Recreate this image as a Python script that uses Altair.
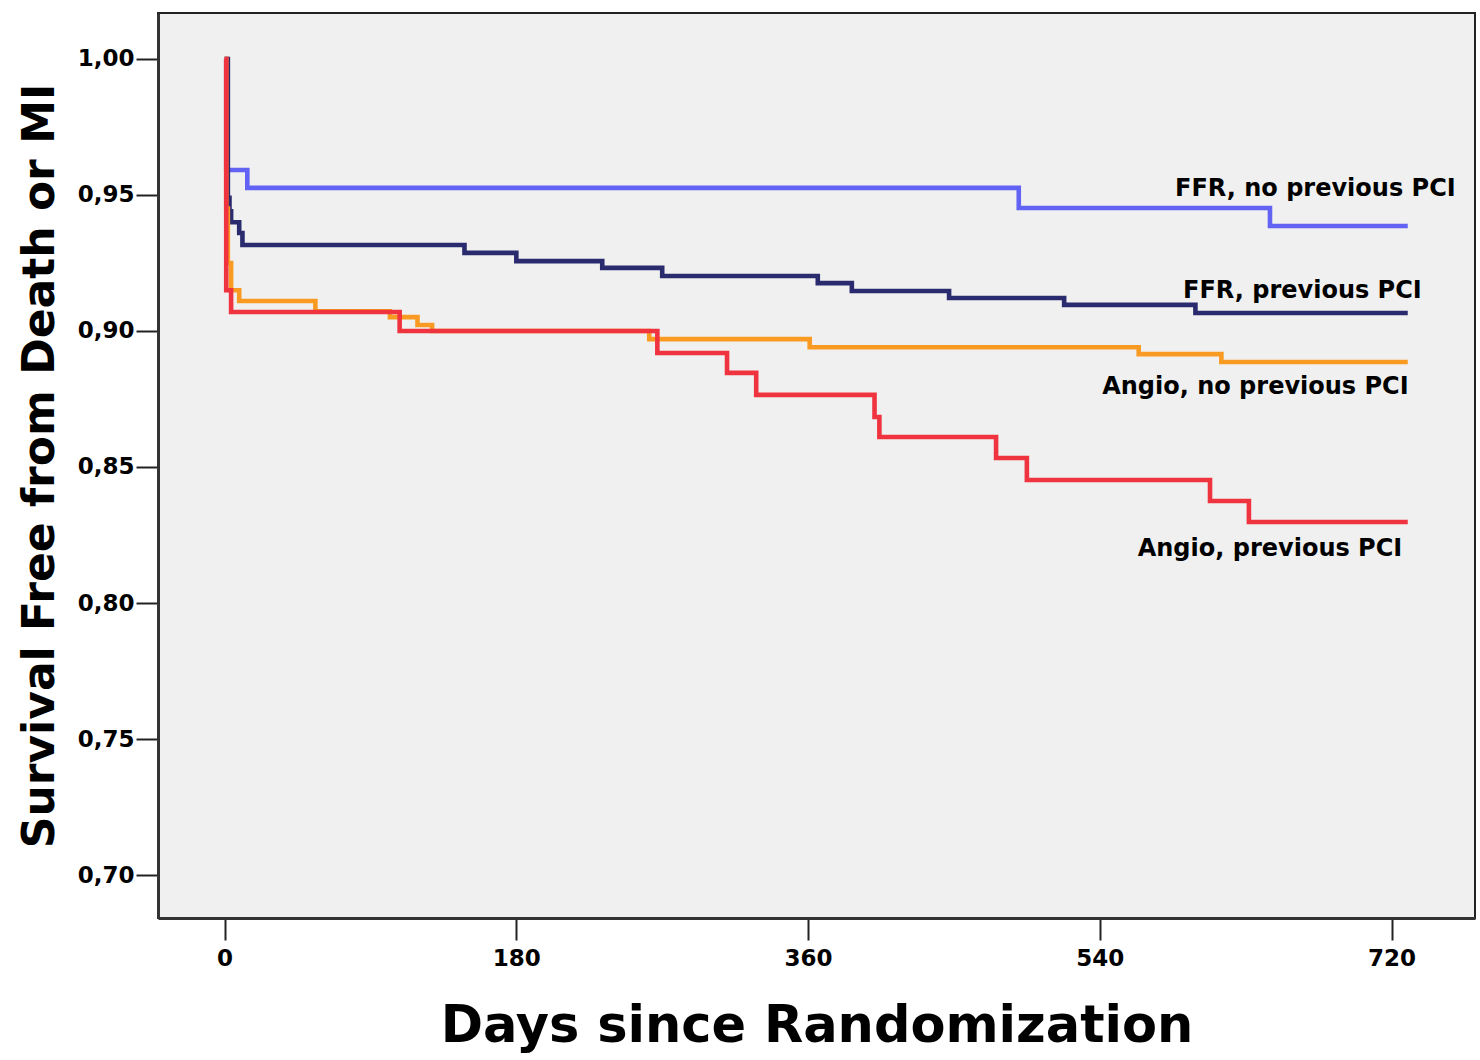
import altair as alt
import pandas as pd

# ---- data ----
series_names = ["FFR, no previous PCI", "FFR, previous PCI",
                "Angio, no previous PCI", "Angio, previous PCI"]
series_colors = ["#6262f5", "#2a2a6e", "#f99a22", "#f0343f"]

ffr_noprev_days = [0, 1, 14, 490, 645, 730]
ffr_noprev_surv = [1.0, 0.9592, 0.9526, 0.9452, 0.9386, 0.9386]

ffr_prev_days = [0, 2, 3, 4, 9, 11, 148, 180, 233, 270, 366, 387, 447, 518, 599, 730]
ffr_prev_surv = [1.0, 0.949, 0.944, 0.940, 0.936, 0.9316, 0.9287, 0.9257, 0.9232,
                 0.9202, 0.9176, 0.9147, 0.9121, 0.9096, 0.9066, 0.9066]

angio_noprev_days = [0, 1, 2, 4, 9, 56, 102, 119, 128, 262, 361, 564, 615, 730]
angio_noprev_surv = [1.0, 0.945, 0.925, 0.915, 0.911, 0.9072, 0.9051, 0.9022, 0.900,
                     0.897, 0.894, 0.8915, 0.8886, 0.8886]

angio_prev_days = [0, 1, 4, 108, 267, 310, 328, 401, 404, 476, 495, 608, 632, 730]
angio_prev_surv = [1.0, 0.915, 0.907, 0.900, 0.8919, 0.8846, 0.8765, 0.8684, 0.8610,
                   0.8533, 0.8452, 0.8375, 0.8298, 0.8298]

x_ticks = [0, 180, 360, 540, 720]
y_ticks = [0.70, 0.75, 0.80, 0.85, 0.90, 0.95, 1.00]

label_texts = series_names
label_days = [673, 665, 636, 645]
label_surv = [0.9522, 0.9147, 0.8794, 0.8199]

# ---- tables ----
all_days = [ffr_noprev_days, ffr_prev_days, angio_noprev_days, angio_prev_days]
all_surv = [ffr_noprev_surv, ffr_prev_surv, angio_noprev_surv, angio_prev_surv]
rows = []
for name, ds, ss in zip(series_names, all_days, all_surv):
    for d, s in zip(ds, ss):
        rows.append({"series": name, "day": d, "surv": s})
df = pd.DataFrame(rows)
labels_df = pd.DataFrame({"text": label_texts, "day": label_days, "surv": label_surv})

FONT = "DejaVu Sans"

x_enc = alt.X("day:Q",
              scale=alt.Scale(domain=[-41.1, 771.5], nice=False, zero=False),
              axis=alt.Axis(values=x_ticks, title="Days since Randomization",
                            format="d", titleFontSize=51, titlePadding=31,
                            labelPadding=7))
y_enc = alt.Y("surv:Q",
              scale=alt.Scale(domain=[0.6842, 1.0169], nice=False, zero=False),
              axis=alt.Axis(values=y_ticks, title="Survival Free from Death or MI",
                            labelExpr="replace(format(datum.value, '.2f'), '.', ',')",
                            titleFontSize=44, titlePadding=15, labelPadding=2))

layers = []
for name, col in zip(series_names, series_colors):
    layers.append(
        alt.Chart(df)
        .transform_filter(alt.datum.series == name)
        .mark_line(interpolate="step-after", strokeWidth=4.6, color=col, clip=True)
        .encode(x=x_enc, y=y_enc)
    )

text_layer = alt.Chart(labels_df).mark_text(
    font=FONT, fontWeight="bold", fontSize=24, color="black",
    align="center", baseline="middle"
).encode(x="day:Q", y="surv:Q", text="text:N")

chart = alt.layer(*layers, text_layer).properties(
    width=1317, height=905,
    autosize=alt.AutoSizeParams(type="none"),
    padding={"left": 158, "top": 13, "right": 5, "bottom": 142},
    background="white",
).configure_view(
    fill="#f0f0f0", stroke="#222222", strokeWidth=2
).configure_axis(
    grid=False,
    domainColor="#333333", domainWidth=3,
    tickColor="#222222", tickWidth=2, tickSize=22,
    labelFont=FONT, labelFontWeight="bold", labelFontSize=23, labelColor="black",
    titleFont=FONT, titleFontWeight="bold", titleColor="black",
)

chart.save("out.html", embed_options={"renderer": "svg", "actions": False})
